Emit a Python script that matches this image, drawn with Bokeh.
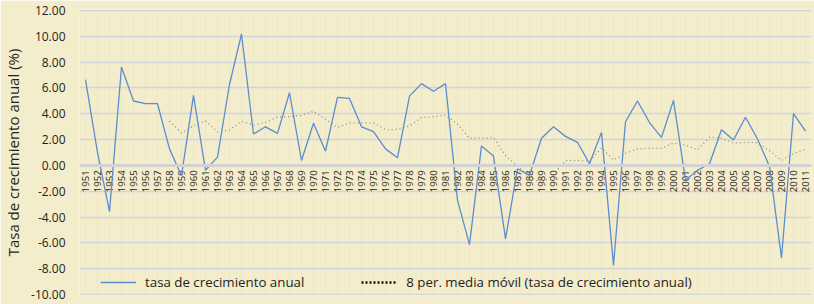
import math
from bokeh.plotting import figure
from bokeh.models import (ColumnDataSource, Range1d, FactorRange, Span, Legend,
                          LegendItem, NumeralTickFormatter, FixedTicker)
from bokeh.core.properties import value
from bokeh.embed import file_html
from bokeh.resources import INLINE

nan = float("nan")

years = [str(y) for y in range(1951, 2012)]

growth = [6.65, 1.00, -3.58, 7.62, 4.99, 4.78, 4.78, 1.28, -0.80, 5.42,
          -0.38, 0.64, 6.27, 10.18, 2.43, 2.99, 2.48, 5.63, 0.38, 3.27,
          1.10, 5.27, 5.19, 2.99, 2.61, 1.28, 0.59, 5.37, 6.34, 5.75,
          6.34, -2.69, -6.14, 1.51, 0.72, -5.70, -0.26, -0.77, 2.10, 2.99,
          2.25, 1.79, 0.13, 2.56, -7.75, 3.38, 4.99, 3.32, 2.17, 5.04,
          -1.15, -0.38, 0.13, 2.76, 1.97, 3.73, 2.05, -0.08, -7.16, 4.02,
          2.66]

moving_avg = [nan, nan, nan, nan, nan, nan, nan,
              3.44, 2.51, 3.06, 3.46, 2.59, 2.75, 3.42, 3.13, 3.34, 3.75,
              3.78, 3.88, 4.20, 3.56, 2.94, 3.29, 3.29, 3.31, 2.76, 2.79,
              3.05, 3.71, 3.77, 3.91, 3.20, 2.11, 2.13, 2.15, 0.77, -0.06,
              -0.87, -1.40, -0.69, 0.36, 0.39, 0.32, 1.35, 0.41, 0.93, 1.29,
              1.33, 1.32, 1.73, 1.57, 1.20, 2.19, 2.11, 1.73, 1.78, 1.77,
              1.13, 0.38, 0.93, 1.24]

y_ticks = [-10, -8, -6, -4, -2, 0, 2, 4, 6, 8, 10, 12]

series_label_1 = "tasa de crecimiento anual"
series_label_2 = "8 per. media móvil (tasa de crecimiento anual)"
y_title = "Tasa de crecimiento anual (%)"

BG = "#f4edcc"
TXT = "#231f20"
FONT = "Open Sans"

src = ColumnDataSource(dict(year=years, growth=growth, ma=moving_avg,
                            zero=[0.0] * len(years),
                            blank=[nan] * len(years)))

p = figure(width=814, height=304,
           x_range=FactorRange(*years, range_padding=0),
           y_range=Range1d(-10.08, 12.08),
           output_backend="svg", toolbar_location=None,
           x_axis_location=None,
           min_border_top=9, min_border_bottom=9, min_border_right=3,
           min_border_left=71,
           background_fill_color=BG, border_fill_color=BG,
           outline_line_color=None)

# y axis
yax = p.yaxis[0]
yax.ticker = FixedTicker(ticks=y_ticks)
yax.formatter = NumeralTickFormatter(format="0.00")
yax.axis_line_color = None
yax.major_tick_line_color = None
yax.minor_tick_line_color = None
yax.major_label_text_font = FONT
yax.major_label_text_font_size = "12px"
yax.major_label_text_color = TXT
yax.major_label_standoff = 8
yax.axis_label = y_title
yax.axis_label_text_font = FONT
yax.axis_label_text_font_size = "15px"
yax.axis_label_text_font_style = "normal"
yax.axis_label_text_color = TXT
yax.axis_label_standoff = 5

p.ygrid.ticker = FixedTicker(ticks=y_ticks)
p.ygrid.grid_line_color = "#cfd4dd"
p.ygrid.grid_line_width = 1.5

p.add_layout(Span(location=0, dimension="width", line_color="#d2d2d2",
                  line_width=3))

# year labels along the zero line
p.text(x="year", y="zero", text="year", source=src, angle=math.pi / 2,
       text_align="right", text_baseline="middle", y_offset=5,
       text_font=value(FONT), text_font_size="9.5px", text_color=TXT)

r_ma = p.line(x="year", y="ma", source=src, line_color="#6e6e60",
              line_width=1.2, line_dash="1 3", line_alpha=0.8)
r_gr = p.line(x="year", y="growth", source=src, line_color="#5b8dd0",
              line_width=1.3)

# legend proxy for the dotted series (all values blank, draws nothing)
proxy = p.line(x="year", y="blank", source=src, line_color="#111111",
               line_width=2.5, line_dash="2 2")

legend = Legend(items=[LegendItem(label=series_label_1, renderers=[r_gr]),
                       LegendItem(label=series_label_2, renderers=[proxy])],
                orientation="horizontal", location=(21, 3),
                padding=0, margin=0, spacing=57, label_standoff=9,
                glyph_width=36, glyph_height=20, label_height=20,
                label_text_font=FONT, label_text_font_size="13.3px",
                label_text_color=TXT,
                background_fill_alpha=0, border_line_color=None)
p.add_layout(legend)

open("out.html", "w").write(file_html(p, INLINE))
